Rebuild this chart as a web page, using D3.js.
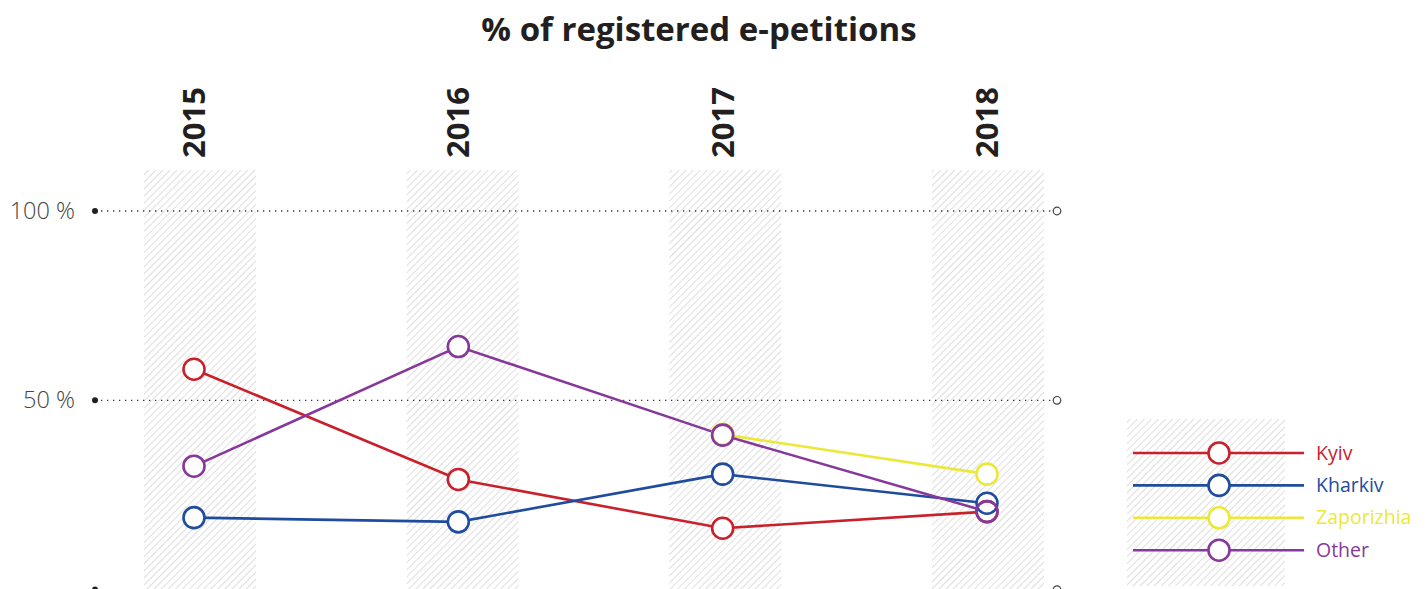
<!DOCTYPE html>
<html>
<head>
<meta charset="utf-8">
<script src="https://cdn.jsdelivr.net/npm/d3@7"></script>
<style>
  body { margin: 0; background: #fff; }
  svg { display: block; font-family: "Open Sans", sans-serif; }
</style>
</head>
<body>
<svg id="chart" width="1428" height="589"></svg>
<script>
var years = ['2015', '2016', '2017', '2018']
var kyiv = [58.2, 29.1, 16.2, 20.6]
var kharkiv = [19.0, 17.9, 30.5, 22.8]
var zaporizhia = [null, null, 41.0, 30.5]
var other = [32.6, 64.2, 40.8, 20.6]
var seriesNames = ['Kyiv', 'Kharkiv', 'Zaporizhia', 'Other']
var yTicks = [0, 50, 100]

var colors = { Kyiv: '#c9212b', Kharkiv: '#1f4c9e', Zaporizhia: '#ece83a', Other: '#87389b' }
var series = [
  { name: 'Kyiv', values: kyiv },
  { name: 'Kharkiv', values: kharkiv },
  { name: 'Zaporizhia', values: zaporizhia },
  { name: 'Other', values: other }
]

var svg = d3.select('#chart')

// hatch pattern
var pat = svg.append('defs').append('pattern')
    .attr('id', 'hatch')
    .attr('patternUnits', 'userSpaceOnUse')
    .attr('width', 5)
    .attr('height', 5)
    .attr('patternTransform', 'rotate(45)')
pat.append('line')
    .attr('x1', 0).attr('y1', 0).attr('x2', 0).attr('y2', 5)
    .attr('stroke', '#c8c8c8')
    .attr('stroke-width', 1.2)

var x = d3.scalePoint().domain(years).range([194, 987])
var bandX = d3.scalePoint().domain(years).range([200, 988])
var bandW = 112
var y = d3.scaleLinear().domain([0, 100]).range([589.6, 211])

// bands
svg.selectAll('rect.band')
    .data(years)
    .enter()
    .append('rect')
    .attr('class', 'band')
    .attr('x', function(d) { return bandX(d) - bandW / 2 })
    .attr('y', 170)
    .attr('width', bandW)
    .attr('height', 420)
    .attr('fill', 'url(#hatch)')

// title
svg.append('text')
    .attr('x', 699)
    .attr('y', 41)
    .attr('text-anchor', 'middle')
    .attr('font-size', 33)
    .attr('font-weight', 700)
    .attr('fill', '#231f20')
    .text('% of registered e-petitions')

// year labels
svg.selectAll('text.year')
    .data(years)
    .enter()
    .append('text')
    .attr('class', 'year')
    .attr('transform', function(d) { return 'translate(' + (x(d) + 11) + ',158) rotate(-90)' })
    .attr('font-size', 31)
    .attr('font-weight', 700)
    .attr('fill', '#231f20')
    .text(function(d) { return d })

// gridlines
var grid = svg.selectAll('g.grid')
    .data(yTicks)
    .enter()
    .append('g')
    .attr('class', 'grid')
    .attr('transform', function(d) { return 'translate(0,' + y(d) + ')' })

grid.append('line')
    .attr('x1', 95).attr('x2', 1053)
    .attr('stroke', '#333')
    .attr('stroke-width', 1.3)
    .attr('stroke-dasharray', '1.3,4.7')
grid.append('circle')
    .attr('cx', 95).attr('r', 3)
    .attr('fill', '#231f20')
grid.append('circle')
    .attr('cx', 1057).attr('r', 3.8)
    .attr('fill', '#fff')
    .attr('stroke', '#444')
    .attr('stroke-width', 1.2)
grid.filter(function(d) { return d > 0 })
  .append('text')
    .attr('x', 75)
    .attr('dy', 8)
    .attr('text-anchor', 'end')
    .attr('font-size', 23.5)
    .attr('font-weight', 300)
    .attr('fill', '#444')
    .text(function(d) { return d + ' %' })

// lines
var line = d3.line()
    .defined(function(d) { return d.v != null })
    .x(function(d) { return x(d.year) })
    .y(function(d) { return y(d.v) })

series.forEach(function(s) {
  s.points = years.map(function(yr, i) { return { year: yr, v: s.values[i] } })
})

svg.selectAll('path.series')
    .data(series)
    .enter()
    .append('path')
    .attr('class', 'series')
    .attr('d', function(d) { return line(d.points) })
    .attr('fill', 'none')
    .attr('stroke', function(d) { return colors[d.name] })
    .attr('stroke-width', 2.6)

var allPoints = []
series.forEach(function(s) {
  s.points.forEach(function(p) { if (p.v != null) allPoints.push({ name: s.name, year: p.year, v: p.v }) })
})

// white fill under markers, then outlines
svg.selectAll('circle.fill')
    .data(allPoints)
    .enter()
    .append('circle')
    .attr('class', 'fill')
    .attr('cx', function(d) { return x(d.year) })
    .attr('cy', function(d) { return y(d.v) })
    .attr('r', 10.5)
    .attr('fill', '#fff')

svg.selectAll('circle.mark')
    .data(allPoints)
    .enter()
    .append('circle')
    .attr('class', 'mark')
    .attr('cx', function(d) { return x(d.year) })
    .attr('cy', function(d) { return y(d.v) })
    .attr('r', 10.5)
    .attr('fill', 'none')
    .attr('stroke', function(d) { return colors[d.name] })
    .attr('stroke-width', 2.6)

// legend
svg.append('rect')
    .attr('x', 1127).attr('y', 419)
    .attr('width', 158).attr('height', 167)
    .attr('fill', 'url(#hatch)')

var leg = svg.selectAll('g.legend')
    .data(seriesNames)
    .enter()
    .append('g')
    .attr('class', 'legend')
    .attr('transform', function(d, i) { return 'translate(0,' + (453 + i * 32.4) + ')' })

leg.append('line')
    .attr('x1', 1133).attr('x2', 1304)
    .attr('stroke', function(d) { return colors[d] })
    .attr('stroke-width', 2.6)
leg.append('circle')
    .attr('cx', 1219).attr('r', 10.5)
    .attr('fill', '#fff')
    .attr('stroke', function(d) { return colors[d] })
    .attr('stroke-width', 2.6)
leg.append('text')
    .attr('x', 1316)
    .attr('dy', 6.5)
    .attr('font-size', 19.5)
    .attr('fill', function(d) { return colors[d] })
    .text(function(d) { return d })
</script>
</body>
</html>
